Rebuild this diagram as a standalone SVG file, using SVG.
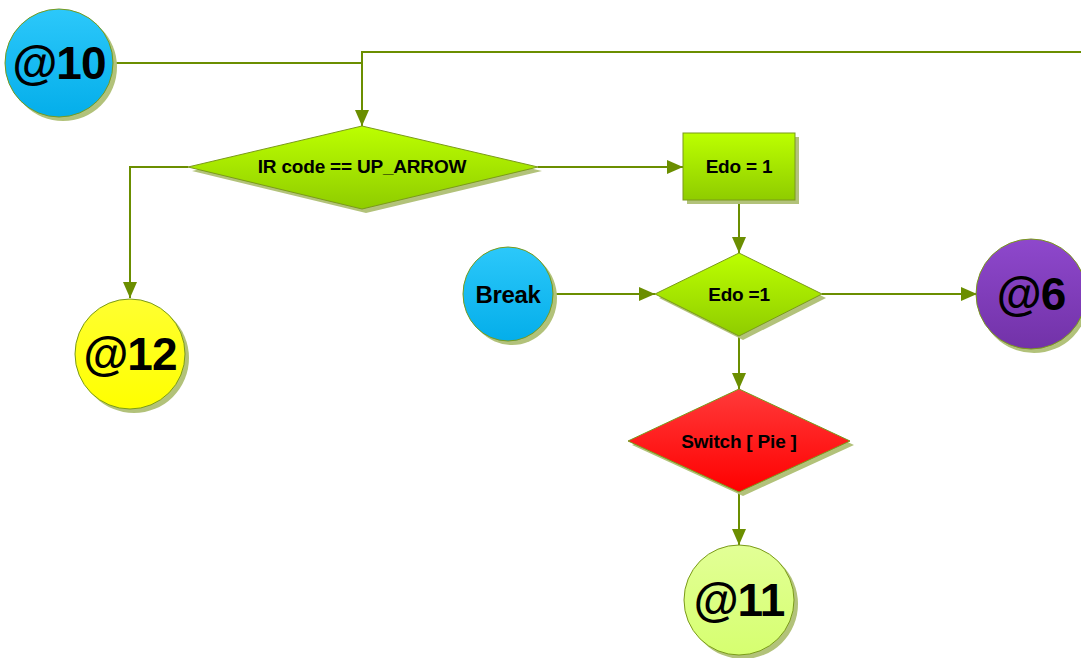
<svg xmlns="http://www.w3.org/2000/svg" width="1081" height="658" viewBox="0 0 1081 658">
<defs>
<linearGradient id="gGreen" x1="0" y1="0" x2="0" y2="1"><stop offset="0" stop-color="#bcff00"/><stop offset="1" stop-color="#8fcc00"/></linearGradient>
<linearGradient id="gBlue" x1="0" y1="0" x2="0" y2="1"><stop offset="0" stop-color="#2cc8fa"/><stop offset="1" stop-color="#04aeea"/></linearGradient>
<linearGradient id="gRed" x1="0" y1="0" x2="0" y2="1"><stop offset="0" stop-color="#ff3a3a"/><stop offset="1" stop-color="#ff0000"/></linearGradient>
<linearGradient id="gPurple" x1="0" y1="0" x2="0" y2="1"><stop offset="0" stop-color="#8e48cc"/><stop offset="1" stop-color="#7232a8"/></linearGradient>
<linearGradient id="gYellow" x1="0" y1="0" x2="0" y2="1"><stop offset="0" stop-color="#ffff30"/><stop offset="1" stop-color="#ffff00"/></linearGradient>
<linearGradient id="gLight" x1="0" y1="0" x2="0" y2="1"><stop offset="0" stop-color="#e2ff96"/><stop offset="1" stop-color="#d6ff70"/></linearGradient>
<marker id="arr" viewBox="0 0 16 14" refX="16" refY="7" markerWidth="16" markerHeight="14" markerUnits="userSpaceOnUse" orient="auto">
<path d="M0,0 L16,7 L0,14 Z" fill="#6b8e00"/>
</marker>
</defs>
<style>
.sh{fill:#b2c27a;}
.nd{stroke:#7a9a1a;stroke-width:1;}
.ln{fill:none;stroke:#6b8e00;stroke-width:2;}
.t{font-family:"Liberation Sans",Arial,sans-serif;font-weight:bold;fill:#000;text-anchor:middle;dominant-baseline:central;}
.s{font-size:19px;letter-spacing:-0.2px;}
.b{font-size:46px;letter-spacing:-1px;}
</style>
<g id="connectors">
<path class="ln" d="M113,63 H362"/>
<path class="ln" d="M1081,52 H362 V126" marker-end="url(#arr)"/>
<path class="ln" d="M188,167 H130 V298" marker-end="url(#arr)"/>
<path class="ln" d="M538,167 H683" marker-end="url(#arr)"/>
<path class="ln" d="M739,200 V253" marker-end="url(#arr)"/>
<path class="ln" d="M553,294 H655" marker-end="url(#arr)"/>
<path class="ln" d="M822,294 H977" marker-end="url(#arr)"/>
<path class="ln" d="M739,336 V389" marker-end="url(#arr)"/>
<path class="ln" d="M739,492 V545" marker-end="url(#arr)"/>
</g>
<g id="n10">
<circle class="sh" cx="63" cy="67" r="54"/>
<circle class="nd" cx="59" cy="63" r="54" fill="url(#gBlue)"/>
<text class="t b" x="59" y="63">@10</text>
</g>
<g id="d1">
<polygon class="sh" points="192,171 366,130 542,171 366,213"/>
<polygon class="nd" points="188,167 362,126 538,167 362,209" fill="url(#gGreen)"/>
<text class="t s" x="362" y="166">IR code == UP_ARROW</text>
</g>
<g id="n12">
<circle class="sh" cx="134" cy="358" r="55"/>
<circle class="nd" cx="130" cy="354" r="55" fill="url(#gYellow)"/>
<text class="t b" x="130" y="354">@12</text>
</g>
<g id="r1">
<rect class="sh" x="687" y="137" width="112" height="67"/>
<rect class="nd" x="683" y="133" width="112" height="67" fill="url(#gGreen)"/>
<text class="t s" x="739" y="166">Edo = 1</text>
</g>
<g id="brk">
<ellipse class="sh" cx="512" cy="298" rx="45" ry="47"/>
<ellipse class="nd" cx="508" cy="294" rx="45" ry="47" fill="url(#gBlue)"/>
<text class="t" style="font-size:24px;letter-spacing:-0.3px" x="508" y="294">Break</text>
</g>
<g id="d2">
<polygon class="sh" points="659,298 743,257 826,298 743,340"/>
<polygon class="nd" points="655,294 739,253 822,294 739,336" fill="url(#gGreen)"/>
<text class="t s" x="739" y="294">Edo =1</text>
</g>
<g id="n6">
<circle class="sh" cx="1034" cy="298" r="55"/>
<circle class="nd" cx="1031" cy="294" r="55" fill="url(#gPurple)"/>
<text class="t b" x="1031" y="294">@6</text>
</g>
<g id="d3">
<polygon class="sh" points="632,445 743,393 854,445 743,496"/>
<polygon class="nd" points="628,441 739,389 850,441 739,492" fill="url(#gRed)"/>
<text class="t s" x="739" y="441">Switch [ Pie ]</text>
</g>
<g id="n11">
<circle class="sh" cx="743" cy="604" r="55"/>
<circle class="nd" cx="739" cy="600" r="55" fill="url(#gLight)"/>
<text class="t b" x="739" y="600">@11</text>
</g>
</svg>
